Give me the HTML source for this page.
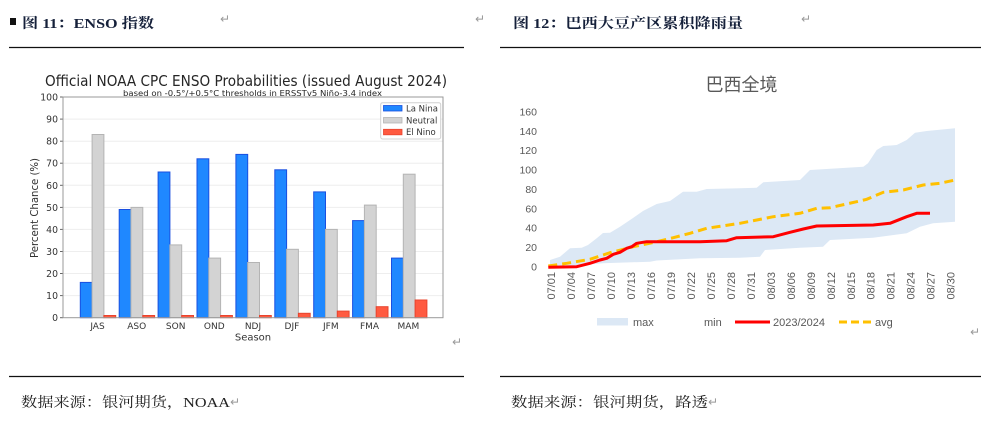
<!DOCTYPE html>
<html><head><meta charset="utf-8"><style>
html,body{margin:0;padding:0;background:#fff;}
svg{display:block;}
</style></head><body>
<svg width="990" height="427" viewBox="0 0 990 427" xmlns="http://www.w3.org/2000/svg">
<!-- headers -->
<rect x="10" y="18" width="6" height="7" fill="#111"/>
<text x="22" y="28" font-family="'Liberation Serif','Noto Serif CJK SC',serif" font-weight="bold" font-size="14" fill="#15203a" textLength="132" lengthAdjust="spacingAndGlyphs">图 11：ENSO 指数</text>
<text x="220" y="23" font-family="'DejaVu Sans',sans-serif" font-size="12" fill="#999">↵</text>
<text x="475" y="23" font-family="'DejaVu Sans',sans-serif" font-size="12" fill="#999">↵</text>
<line x1="9" y1="47.5" x2="464" y2="47.5" stroke="#111" stroke-width="1.3"/>

<text x="513" y="28" font-family="'Liberation Serif','Noto Serif CJK SC',serif" font-weight="bold" font-size="14" fill="#15203a" textLength="230" lengthAdjust="spacingAndGlyphs">图 12：巴西大豆产区累积降雨量</text>
<text x="801" y="23" font-family="'DejaVu Sans',sans-serif" font-size="12" fill="#999">↵</text>
<line x1="500" y1="47.5" x2="981" y2="47.5" stroke="#111" stroke-width="1.3"/>

<!-- bottom -->
<line x1="9" y1="376.5" x2="464" y2="376.5" stroke="#111" stroke-width="1.3"/>
<line x1="500" y1="376.5" x2="981" y2="376.5" stroke="#111" stroke-width="1.3"/>
<text x="21" y="407" font-family="'Liberation Serif','Noto Serif CJK SC',serif" font-size="14" fill="#222" textLength="209" lengthAdjust="spacingAndGlyphs">数据来源：银河期货，NOAA</text>
<text x="230" y="406" font-family="'DejaVu Sans',sans-serif" font-size="12" fill="#999">↵</text>
<text x="511" y="407" font-family="'Liberation Serif','Noto Serif CJK SC',serif" font-size="14" fill="#222" textLength="197" lengthAdjust="spacingAndGlyphs">数据来源：银河期货，路透</text>
<text x="708" y="406" font-family="'DejaVu Sans',sans-serif" font-size="12" fill="#999">↵</text>

<!-- LEFT CHART -->
<g font-family="'DejaVu Sans','Liberation Sans',sans-serif" fill="#262626">
<text x="45" y="86" font-size="15" textLength="402" lengthAdjust="spacingAndGlyphs">Official NOAA CPC ENSO Probabilities (issued August 2024)</text>
<text x="123" y="95.8" font-size="8" textLength="259" lengthAdjust="spacingAndGlyphs">based on -0.5°/+0.5°C thresholds in ERSSTv5 Niño-3.4 index</text>
</g>
<g stroke="#eeeeee" stroke-width="1">
<line x1="63" y1="295.6" x2="443" y2="295.6"/>
<line x1="63" y1="273.5" x2="443" y2="273.5"/>
<line x1="63" y1="251.5" x2="443" y2="251.5"/>
<line x1="63" y1="229.4" x2="443" y2="229.4"/>
<line x1="63" y1="207.4" x2="443" y2="207.4"/>
<line x1="63" y1="185.3" x2="443" y2="185.3"/>
<line x1="63" y1="163.2" x2="443" y2="163.2"/>
<line x1="63" y1="141.2" x2="443" y2="141.2"/>
<line x1="63" y1="119.1" x2="443" y2="119.1"/>
</g>
<g font-family="'DejaVu Sans',sans-serif" font-size="9.3" fill="#333" text-anchor="end">
<text x="58" y="321">0</text>
<text x="58" y="299">10</text>
<text x="58" y="277">20</text>
<text x="58" y="255">30</text>
<text x="58" y="233">40</text>
<text x="58" y="211">50</text>
<text x="58" y="189">60</text>
<text x="58" y="166.5">70</text>
<text x="58" y="144.5">80</text>
<text x="58" y="122.5">90</text>
<text x="58" y="100.5">100</text>
</g>
<g stroke="#666" stroke-width="1">
<line x1="60" y1="317.7" x2="63" y2="317.7"/><line x1="60" y1="295.6" x2="63" y2="295.6"/>
<line x1="60" y1="273.5" x2="63" y2="273.5"/><line x1="60" y1="251.5" x2="63" y2="251.5"/>
<line x1="60" y1="229.4" x2="63" y2="229.4"/><line x1="60" y1="207.4" x2="63" y2="207.4"/>
<line x1="60" y1="185.3" x2="63" y2="185.3"/><line x1="60" y1="163.2" x2="63" y2="163.2"/>
<line x1="60" y1="141.2" x2="63" y2="141.2"/><line x1="60" y1="119.1" x2="63" y2="119.1"/>
<line x1="60" y1="97" x2="63" y2="97"/>
</g>
<g stroke-width="1">
<rect x="80.3" y="282.4" width="11.8" height="35.3" fill="#1f88ff" stroke="#1a4fe0"/>
<rect x="92.1" y="134.5" width="11.8" height="183.2" fill="#d3d3d3" stroke="#b4b4b4"/>
<rect x="103.9" y="315.5" width="11.8" height="2.2" fill="#ff5a40" stroke="#e8442e"/>
<rect x="119.2" y="209.5" width="11.8" height="108.2" fill="#1f88ff" stroke="#1a4fe0"/>
<rect x="131" y="207.4" width="11.8" height="110.3" fill="#d3d3d3" stroke="#b4b4b4"/>
<rect x="142.8" y="315.5" width="11.8" height="2.2" fill="#ff5a40" stroke="#e8442e"/>
<rect x="158.1" y="172.0" width="11.8" height="145.7" fill="#1f88ff" stroke="#1a4fe0"/>
<rect x="169.9" y="244.9" width="11.8" height="72.8" fill="#d3d3d3" stroke="#b4b4b4"/>
<rect x="181.7" y="315.5" width="11.8" height="2.2" fill="#ff5a40" stroke="#e8442e"/>
<rect x="197" y="158.8" width="11.8" height="158.9" fill="#1f88ff" stroke="#1a4fe0"/>
<rect x="208.8" y="258.1" width="11.8" height="59.6" fill="#d3d3d3" stroke="#b4b4b4"/>
<rect x="220.6" y="315.5" width="11.8" height="2.2" fill="#ff5a40" stroke="#e8442e"/>
<rect x="235.9" y="154.4" width="11.8" height="163.3" fill="#1f88ff" stroke="#1a4fe0"/>
<rect x="247.7" y="262.5" width="11.8" height="55.2" fill="#d3d3d3" stroke="#b4b4b4"/>
<rect x="259.5" y="315.5" width="11.8" height="2.2" fill="#ff5a40" stroke="#e8442e"/>
<rect x="274.8" y="169.8" width="11.8" height="147.9" fill="#1f88ff" stroke="#1a4fe0"/>
<rect x="286.6" y="249.3" width="11.8" height="68.4" fill="#d3d3d3" stroke="#b4b4b4"/>
<rect x="298.4" y="313.3" width="11.8" height="4.4" fill="#ff5a40" stroke="#e8442e"/>
<rect x="313.7" y="191.9" width="11.8" height="125.8" fill="#1f88ff" stroke="#1a4fe0"/>
<rect x="325.5" y="229.4" width="11.8" height="88.3" fill="#d3d3d3" stroke="#b4b4b4"/>
<rect x="337.3" y="311.1" width="11.8" height="6.6" fill="#ff5a40" stroke="#e8442e"/>
<rect x="352.6" y="220.6" width="11.8" height="97.1" fill="#1f88ff" stroke="#1a4fe0"/>
<rect x="364.4" y="205.1" width="11.8" height="112.6" fill="#d3d3d3" stroke="#b4b4b4"/>
<rect x="376.2" y="306.7" width="11.8" height="11" fill="#ff5a40" stroke="#e8442e"/>
<rect x="391.5" y="258.1" width="11.8" height="59.6" fill="#1f88ff" stroke="#1a4fe0"/>
<rect x="403.3" y="174.2" width="11.8" height="143.5" fill="#d3d3d3" stroke="#b4b4b4"/>
<rect x="415.1" y="300.0" width="11.8" height="17.7" fill="#ff5a40" stroke="#e8442e"/>
</g>
<rect x="63" y="97" width="380" height="220.7" fill="none" stroke="#999" stroke-width="1"/>
<g font-family="'DejaVu Sans',sans-serif" font-size="9" fill="#333" text-anchor="middle">
<text x="97.5" y="329">JAS</text>
<text x="136.7" y="329">ASO</text>
<text x="175.7" y="329">SON</text>
<text x="214.3" y="329">OND</text>
<text x="253" y="329">NDJ</text>
<text x="291.9" y="329">DJF</text>
<text x="330.8" y="329">JFM</text>
<text x="369.5" y="329">FMA</text>
<text x="408.4" y="329">MAM</text>
<text x="253" y="340.5" font-size="10">Season</text>
</g>
<text transform="translate(38,208) rotate(-90)" text-anchor="middle" font-family="'DejaVu Sans',sans-serif" font-size="11" fill="#333" textLength="100" lengthAdjust="spacingAndGlyphs">Percent Chance (%)</text>
<!-- legend -->
<rect x="380.7" y="102.7" width="60" height="36.3" fill="#fff" stroke="#d0d0d0" rx="2"/>
<rect x="383.5" y="105.5" width="18.5" height="5.5" fill="#1f88ff" stroke="#1a4fe0" stroke-width="0.8"/>
<rect x="383.5" y="117.5" width="18.5" height="5.5" fill="#d3d3d3" stroke="#b4b4b4" stroke-width="0.8"/>
<rect x="383.5" y="129.3" width="18.5" height="5.5" fill="#ff5a40" stroke="#e8442e" stroke-width="0.8"/>
<g font-family="'DejaVu Sans',sans-serif" font-size="8.5" fill="#333">
<text x="406" y="111.3">La Nina</text>
<text x="406" y="123.3">Neutral</text>
<text x="406" y="135.2">El Nino</text>
</g>
<text x="452" y="346" font-family="'DejaVu Sans',sans-serif" font-size="12" fill="#999">↵</text>

<!-- RIGHT CHART -->
<text x="741.5" y="91" text-anchor="middle" font-family="'Liberation Sans','Noto Sans CJK SC',sans-serif" font-size="18" fill="#595959">巴西全境</text>
<g font-family="'Liberation Sans',sans-serif" font-size="10.5" fill="#595959" text-anchor="end">
<text x="537" y="270.5">0</text>
<text x="537" y="251.1">20</text>
<text x="537" y="231.7">40</text>
<text x="537" y="212.3">60</text>
<text x="537" y="192.9">80</text>
<text x="537" y="173.5">100</text>
<text x="537" y="154.2">120</text>
<text x="537" y="134.8">140</text>
<text x="537" y="115.4">160</text>
</g>
<polygon fill="#dce8f5" points="550,260 560,256.7 570,248.3 581.7,247.7 588,245 596.7,238.3 603,233 610,232.7 620,226.7 633,218 643,211 656.7,204 670,201 683,191.7 696.7,191.7 706.7,189 740,188.3 756.7,187.7 763.3,182.3 800,180 810,170 863.3,166.7 868,163.3 876.7,150 883.3,146 896.7,145 906.7,140 915,132.7 926.7,131 955,128.3 955,221.7 933,223.3 920,226.7 906.7,233.3 873,237.7 830,240 823,246.7 800,247.7 765,250 760,256.7 740,257.7 700,258.3 656.7,260.5 650,261.7 603,263.3 550,267.3"/>
<polyline fill="none" stroke="#ffc000" stroke-width="3" stroke-dasharray="9,5" points="548.3,266 566.7,263.3 590,259.3 610,252.7 633.3,246.7 656.7,241.7 673.3,237.7 690,233.3 706.7,228.3 740,223.3 773.3,216.7 800,213.3 816.7,208.3 830,207.7 856.7,201.7 866.7,199.3 883.3,192.3 903.3,190 923.3,185 940,183.3 955,180"/>
<polyline fill="none" stroke="#ff0000" stroke-width="3" stroke-linejoin="round" points="548.3,267.3 576.7,266.7 590,263.3 600,260 606.7,258.3 613.3,254.3 620,252.3 626.7,248.3 631.7,246.7 636.7,243.3 646.7,241.7 700,241.7 726.7,240.7 736.7,237.7 773.3,236.7 790,232.3 803.3,229 816.7,226 873.3,225 890,223.3 906.7,216.7 916.7,213.3 930,213.3"/>
<g font-family="'Liberation Sans',sans-serif" font-size="11" fill="#595959" text-anchor="end">
<text transform="translate(555,272) rotate(-90)">07/01</text>
<text transform="translate(575,272) rotate(-90)">07/04</text>
<text transform="translate(595,272) rotate(-90)">07/07</text>
<text transform="translate(615,272) rotate(-90)">07/10</text>
<text transform="translate(635,272) rotate(-90)">07/13</text>
<text transform="translate(655,272) rotate(-90)">07/16</text>
<text transform="translate(675,272) rotate(-90)">07/19</text>
<text transform="translate(694.9,272) rotate(-90)">07/22</text>
<text transform="translate(714.9,272) rotate(-90)">07/25</text>
<text transform="translate(734.9,272) rotate(-90)">07/28</text>
<text transform="translate(754.9,272) rotate(-90)">07/31</text>
<text transform="translate(774.8,272) rotate(-90)">08/03</text>
<text transform="translate(794.8,272) rotate(-90)">08/06</text>
<text transform="translate(814.8,272) rotate(-90)">08/09</text>
<text transform="translate(834.8,272) rotate(-90)">08/12</text>
<text transform="translate(854.8,272) rotate(-90)">08/15</text>
<text transform="translate(874.7,272) rotate(-90)">08/18</text>
<text transform="translate(894.7,272) rotate(-90)">08/21</text>
<text transform="translate(914.7,272) rotate(-90)">08/24</text>
<text transform="translate(934.6,272) rotate(-90)">08/27</text>
<text transform="translate(954.6,272) rotate(-90)">08/30</text>
</g>
<rect x="597" y="318" width="31" height="7.5" fill="#dce8f5"/>
<line x1="735" y1="322" x2="770" y2="322" stroke="#ff0000" stroke-width="3"/>
<line x1="839" y1="322" x2="872" y2="322" stroke="#ffc000" stroke-width="3" stroke-dasharray="8,4"/>
<g font-family="'Liberation Sans',sans-serif" font-size="11" fill="#595959">
<text x="633" y="326">max</text>
<text x="704" y="326">min</text>
<text x="773" y="326">2023/2024</text>
<text x="875" y="326">avg</text>
</g>
<text x="970" y="336" font-family="'DejaVu Sans',sans-serif" font-size="12" fill="#999">↵</text>
</svg>
</body></html>
